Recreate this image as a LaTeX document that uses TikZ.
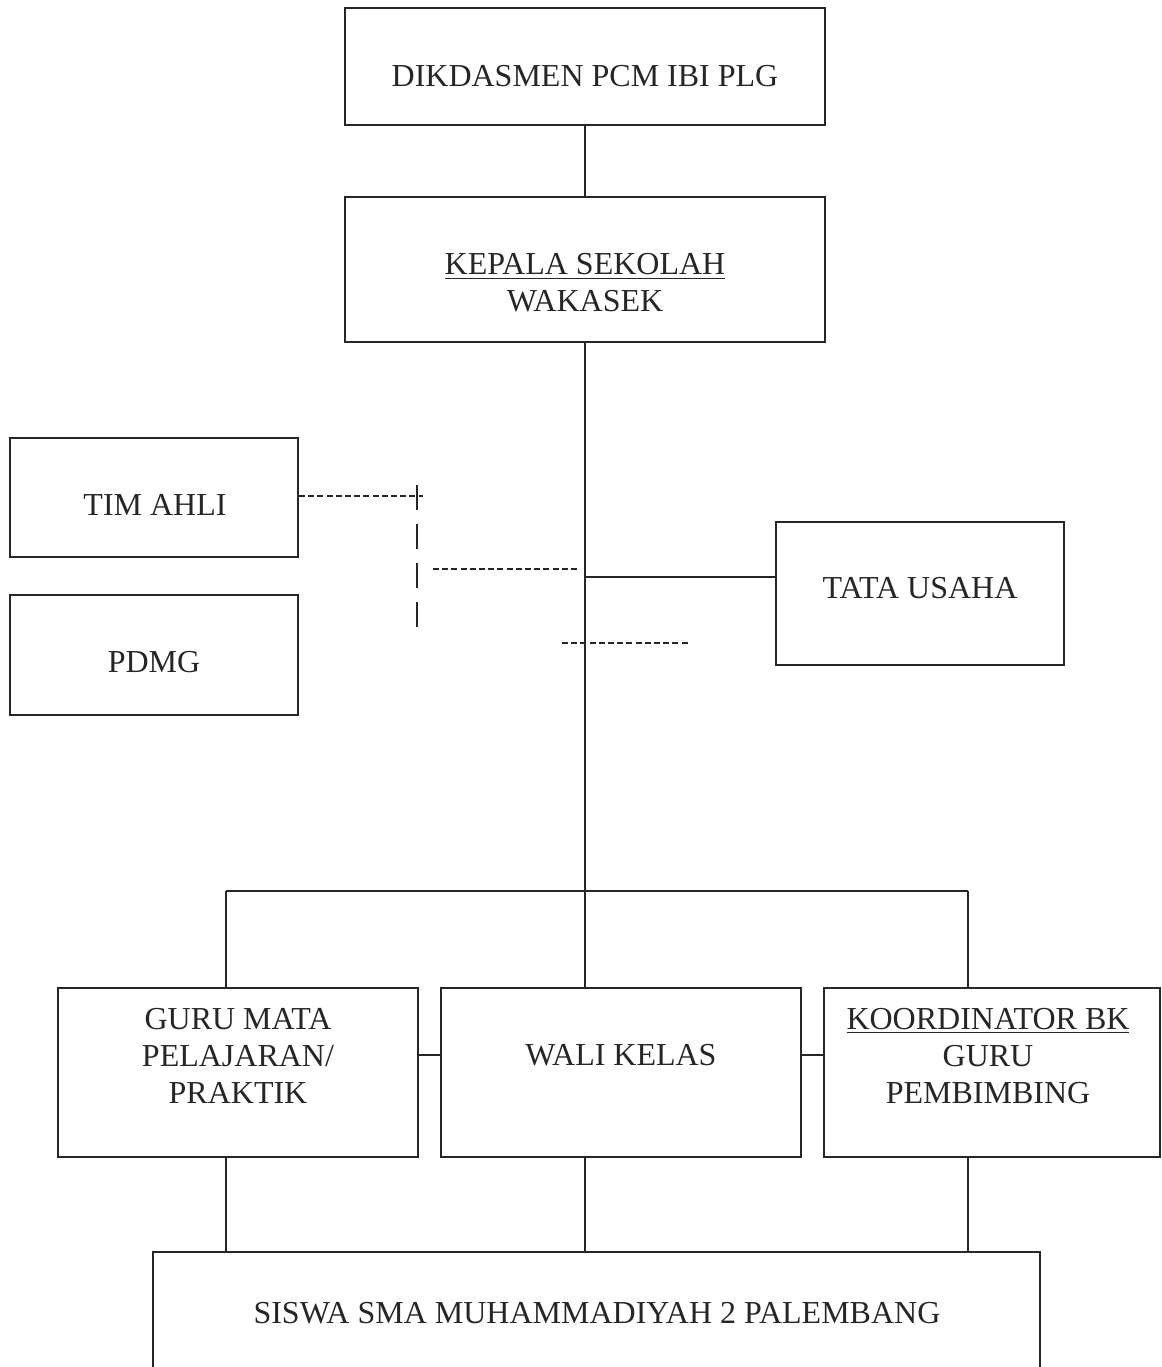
\documentclass[tikz,border=0pt]{standalone}
\usepackage{fontspec}
\setmainfont{Liberation Serif}
\begin{document}
\begin{tikzpicture}[x=0.5pt,y=-0.5pt,
  box/.style={draw=black!85,line width=1pt,rectangle,inner sep=0pt},
  txt/.style={inner sep=0pt,align=center,font=\fontsize{16pt}{18.5pt}\selectfont,text=black!85},
  conn/.style={draw=black!85,line width=1pt},
  sdash/.style={draw=black!85,line width=1pt,dash pattern=on 3pt off 1.6pt},
  ldash/.style={draw=black!85,line width=1pt,dash pattern=on 12.5pt off 7pt}]
\useasboundingbox (0,0) rectangle (1162,1367);
\clip (0,0) rectangle (1162,1367);
% boxes
\node[box,minimum width=240pt,minimum height=58.5pt] (dik) at (585,66.5) {};
\node[box,minimum width=240pt,minimum height=72.5pt] (kep) at (585,269.5) {};
\node[box,minimum width=144pt,minimum height=59.5pt] (tim) at (154,497.5) {};
\node[box,minimum width=144pt,minimum height=60pt] (pdmg) at (154,655) {};
\node[box,minimum width=144pt,minimum height=71.5pt] (tata) at (920,593.5) {};
\node[box,minimum width=180pt,minimum height=84.5pt] (guru) at (238,1072.5) {};
\node[box,minimum width=180pt,minimum height=84.5pt] (wali) at (621,1072.5) {};
\node[box,minimum width=168pt,minimum height=84.5pt] (koor) at (992,1072.5) {};
\node[box,minimum width=443.5pt,minimum height=69pt] (sis) at (596.5,1321) {};
% texts
\node[txt] (tdik) at (585,76) {DIKDASMEN PCM IBI PLG};
\node[txt] (tkep) at (585,283) {\underline{KEPALA SEKOLAH}\\WAKASEK};
\node[txt] (ttim) at (155,505) {TIM AHLI};
\node[txt] (tpdmg) at (154,662) {PDMG};
\node[txt] (ttata) at (920,588) {TATA USAHA};
\node[txt] (tguru) at (238,1056) {GURU MATA\\PELAJARAN/\\PRAKTIK};
\node[txt] (twali) at (621,1055) {WALI KELAS};
\node[txt] (tkoor) at (988,1056) {\underline{KOORDINATOR BK}\\GURU\\PEMBIMBING};
\node[txt] (tsis) at (597,1313) {SISWA SMA MUHAMMADIYAH 2 PALEMBANG};
% coordinates
\coordinate (busL) at (226,891);
\coordinate (busM) at (585,891);
\coordinate (busR) at (968,891);
\coordinate (jt) at (585,577);
\coordinate (lk) at (0,1055);
\coordinate (dvt) at (417,485);
\coordinate (dvb) at (417,630);
\coordinate (dh) at (423,496);
\coordinate (dm1) at (433,569);
\coordinate (dm2) at (578,569);
\coordinate (dl1) at (562,643);
\coordinate (dl2) at (688,643);
% solid connectors
\draw[conn] (dik.south) -- (kep.north);
\draw[conn] (kep.south) -- (busM);
\draw[conn] (busL) -- (busR);
\draw[conn] (jt) -- (jt -| tata.west);
\draw[conn] (busL) -- (busL |- guru.north);
\draw[conn] (busM) -- (busM |- wali.north);
\draw[conn] (busR) -- (busR |- koor.north);
\draw[conn] (guru.east |- lk) -- (wali.west |- lk);
\draw[conn] (wali.east |- lk) -- (koor.west |- lk);
\draw[conn] (busL |- guru.south) -- (busL |- sis.north);
\draw[conn] (busM |- wali.south) -- (busM |- sis.north);
\draw[conn] (busR |- koor.south) -- (busR |- sis.north);
% dashed connectors
\draw[sdash] (tim.east |- dh) -- (dh);
\draw[ldash] (dvt) -- (dvb);
\draw[sdash] (dm1) -- (dm2);
\draw[sdash] (dl1) -- (dl2);
\end{tikzpicture}
\end{document}
